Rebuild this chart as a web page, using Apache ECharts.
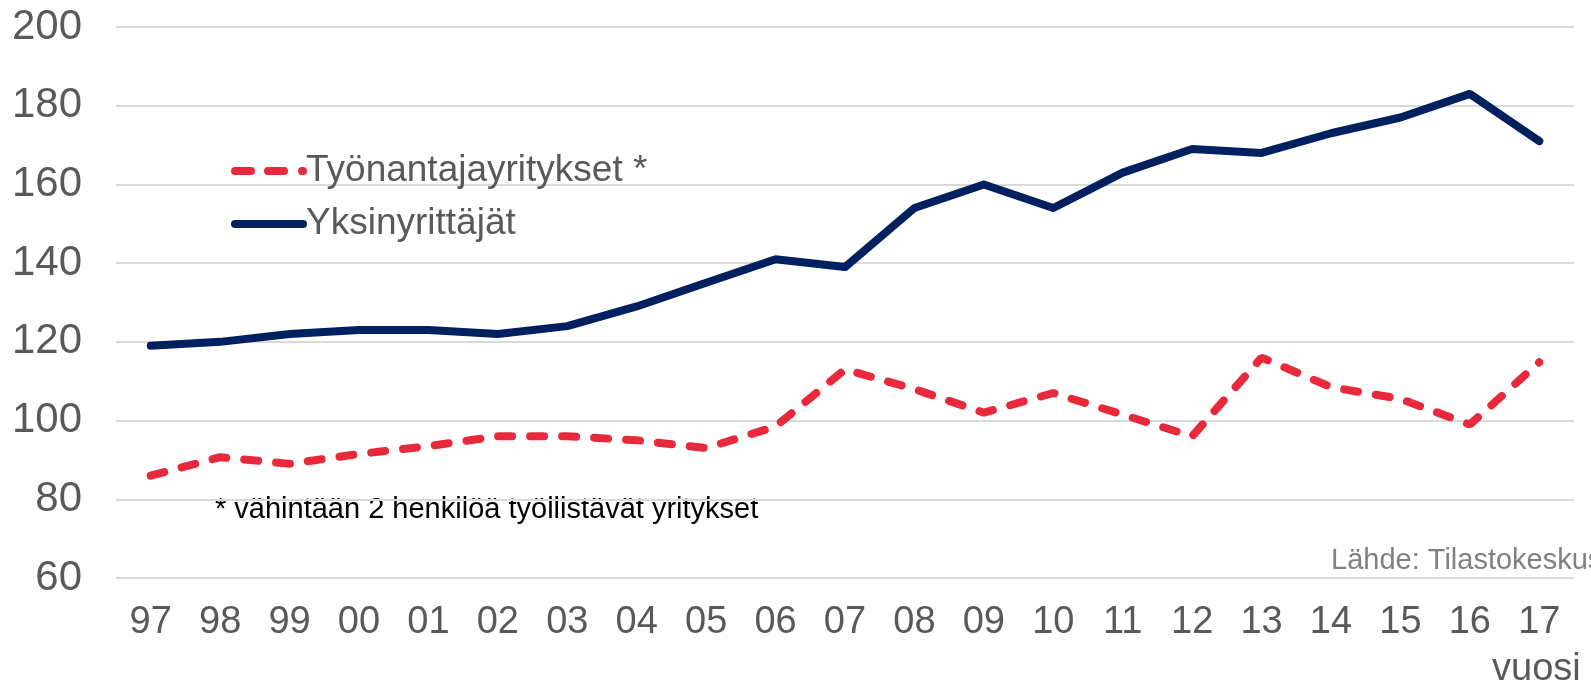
<!DOCTYPE html>
<html>
<head>
<meta charset="utf-8">
<script src="https://cdn.jsdelivr.net/npm/echarts@6/dist/echarts.min.js"></script>
<style>
  html, body { margin: 0; padding: 0; background: #fff; }
  #main { width: 1591px; height: 683px; }
</style>
</head>
<body>
<div id="main"></div>
<script>
// vuodet 1997-2017
var years = ['97','98','99','00','01','02','03','04','05','06','07','08','09','10','11','12','13','14','15','16','17'];
var tyonantajat = [86, 90.7, 89, 91.5, 93.5, 96, 96, 95, 93, 98.5, 113, 108, 102, 107, 101.5, 96, 116, 108.5, 105.5, 99, 114.8];
var yksinyrittajat = [119, 120, 122, 123, 123, 122, 124, 129, 135, 141, 139, 154, 160, 154, 163, 169, 168, 173, 177, 183, 171];
var yTicks = { min: 60, max: 200, interval: 20 };

var myChart = echarts.init(document.getElementById('main'));
var font = 'Liberation Sans, Arial, sans-serif';
var red = '#e8293b';
var navy = '#00205f';

var option = {
    animation: false,
    grid: { left: 116, right: 17, top: 27, bottom: 105, containLabel: false },
    legend: {
        orient: 'vertical',
        left: 226,
        top: 146,
        itemWidth: 76,
        itemHeight: 8,
        itemGap: 13,
        itemStyle: { borderWidth: 0 },
        textStyle: { fontFamily: font, fontSize: 37, lineHeight: 40, color: '#595959', padding: [0, 0, 0, -6] },
        data: [
            // katkoviiva: kaksi viivaa ja piste, pyöristetyt päät
            { name: 'Työnantajayritykset *', icon: 'path://M4,0L20,0A4,4 0 0 1 20,8L4,8A4,4 0 0 1 4,0Z M37,0L53,0A4,4 0 0 1 53,8L37,8A4,4 0 0 1 37,0Z M71,0L72,0A4,4 0 0 1 72,8L71,8A4,4 0 0 1 71,0Z' },
            { name: 'Yksinyrittäjät', icon: 'path://M4,0L72,0A4,4 0 0 1 72,8L4,8A4,4 0 0 1 4,0Z' }
        ]
    },
    xAxis: {
        type: 'category',
        data: years,
        boundaryGap: true,
        axisLine: { show: false },
        axisTick: { show: false },
        axisLabel: { fontFamily: font, fontSize: 38, color: '#595959', margin: 26 }
    },
    yAxis: {
        type: 'value',
        min: yTicks.min,
        max: yTicks.max,
        interval: yTicks.interval,
        axisLine: { show: false },
        axisTick: { show: false },
        splitLine: { lineStyle: { color: '#d9d9d9', width: 2 } },
        axisLabel: { fontFamily: font, fontSize: 42, color: '#595959', margin: 34 }
    },
    series: [
        {
            name: 'Työnantajayritykset *',
            type: 'line',
            data: tyonantajat,
            symbol: 'none',
            lineStyle: { color: red, width: 8, type: [14, 18], cap: 'round' },
            itemStyle: { color: red }
        },
        {
            name: 'Yksinyrittäjät',
            type: 'line',
            data: yksinyrittajat,
            symbol: 'none',
            lineStyle: { color: navy, width: 8, cap: 'round', join: 'round' },
            itemStyle: { color: navy }
        }
    ],
    graphic: [
        {
            type: 'text', left: 215, top: 495,
            style: { text: '* vähintään 2 henkilöä työllistävät yritykset', fontFamily: font, fontSize: 29, fill: '#000' }
        },
        {
            type: 'text', left: 1331, top: 546,
            style: { text: 'Lähde: Tilastokeskus', fontFamily: font, fontSize: 29, fill: '#808080' }
        },
        {
            type: 'text', left: 1492, top: 651,
            style: { text: 'vuosi', fontFamily: font, fontSize: 38, fill: '#595959' }
        }
    ]
};

myChart.setOption(option);
</script>
</body>
</html>
